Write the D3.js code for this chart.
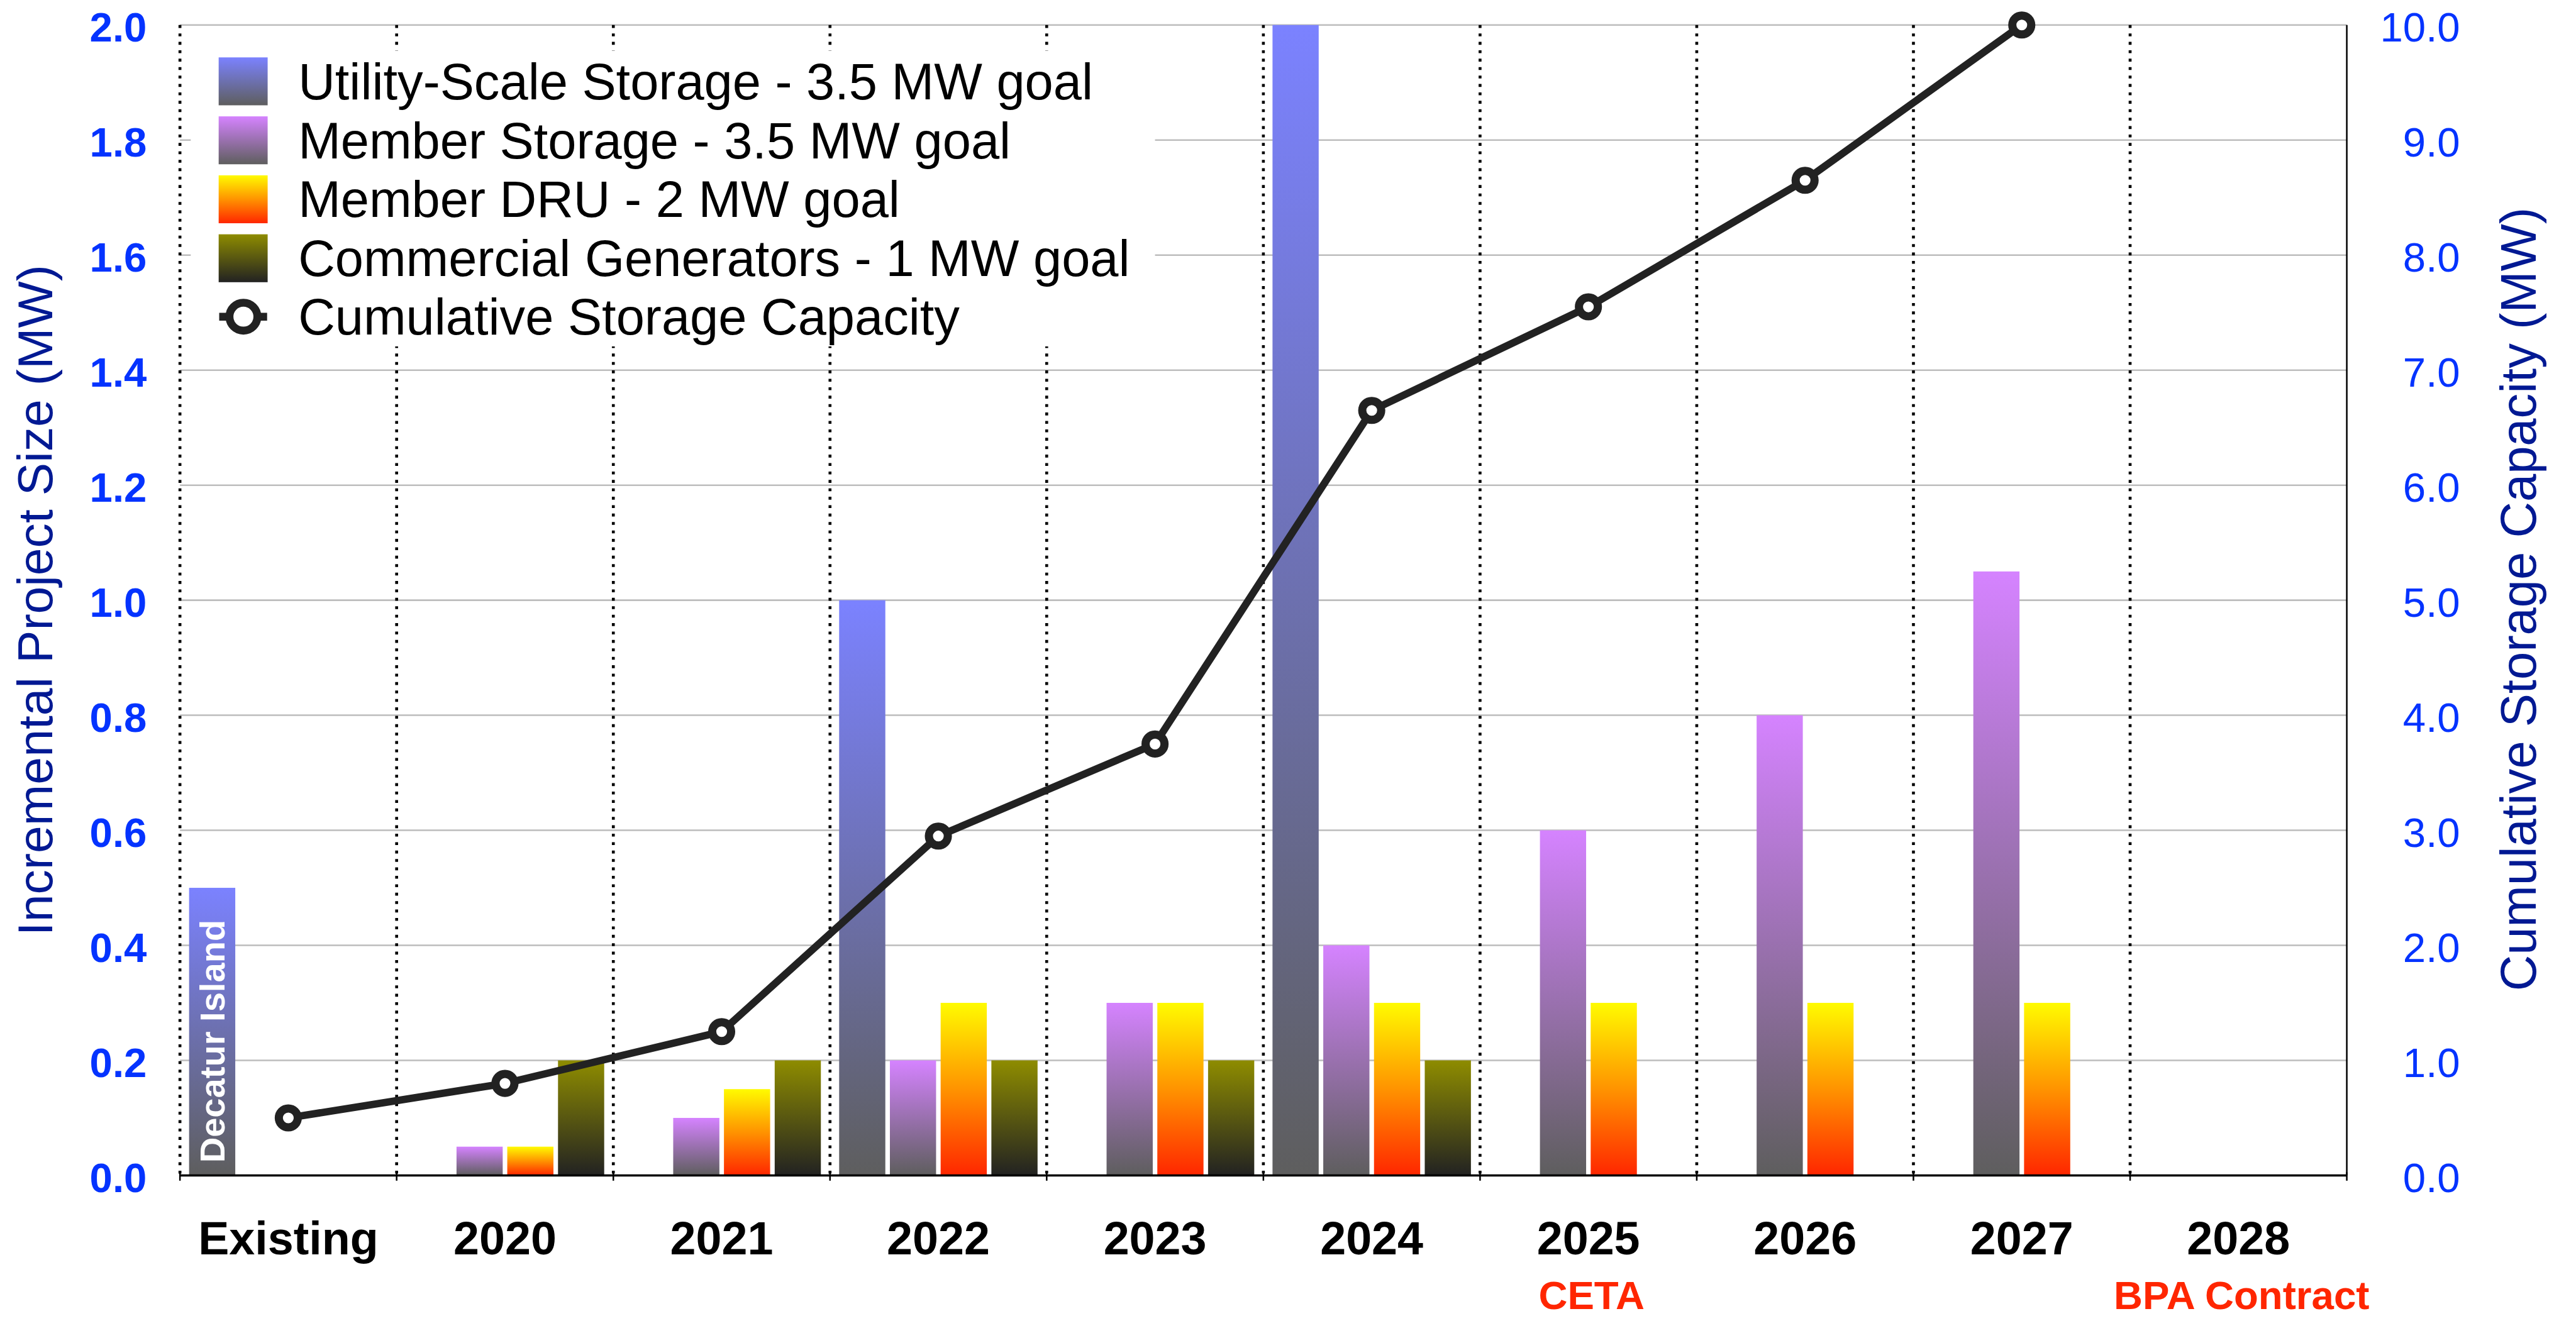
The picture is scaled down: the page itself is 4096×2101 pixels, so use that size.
<!DOCTYPE html>
<html>
<head>
<meta charset="utf-8">
<script src="https://cdn.jsdelivr.net/npm/d3@7"></script>
<style>
  html, body { margin: 0; padding: 0; background: #ffffff; }
  svg { display: block; }
  text { font-family: "Liberation Sans", Arial, Helvetica, sans-serif; }
</style>
</head>
<body>
<div id="chart"></div>
<script>
// Categories along the x axis
const categories = ["Existing", "2020", "2021", "2022", "2023", "2024", "2025", "2026", "2027", "2028"];

// Incremental project sizes (MW), one array per series
const utilityStorage    = [0.5, 0,    0,    1.0, 0,   2.0, 0,   0,   0,    0];
const memberStorage     = [0,   0.05, 0.1,  0.2, 0.3, 0.4, 0.6, 0.8, 1.05, 0];
const memberDRU         = [0,   0.05, 0.15, 0.3, 0.3, 0.3, 0.3, 0.3, 0.3,  0];
const commercialGen     = [0,   0.2,  0.2,  0.2, 0.2, 0.2, 0,   0,   0,    0];

// Cumulative storage capacity (MW, right axis); no point for 2028
const cumulativeCapacity = [0.5, 0.8, 1.25, 2.95, 3.75, 6.65, 7.55, 8.65, 10.0, null];

// Axis ticks
const leftTicks  = [0, 0.2, 0.4, 0.6, 0.8, 1.0, 1.2, 1.4, 1.6, 1.8, 2.0];
const rightTicks = [0, 1, 2, 3, 4, 5, 6, 7, 8, 9, 10];

// Series labels for the legend
const seriesKeys   = ["utility", "member", "dru", "commercial"];
const seriesLabels = [
  "Utility-Scale Storage - 3.5 MW goal",
  "Member Storage - 3.5 MW goal",
  "Member DRU - 2 MW goal",
  "Commercial Generators - 1 MW goal"
];
const lineLabel = "Cumulative Storage Capacity";

// Milestone notes under the category labels
const noteCategories = ["2025", "2028"];
const noteLabels     = ["CETA", "BPA Contract"];

// Titles
const leftTitle  = "Incremental Project Size (MW)";
const rightTitle = "Cumulative Storage Capacity (MW)";
const decaturLabel = "Decatur Island";

const seriesValues = {
  utility: utilityStorage,
  member: memberStorage,
  dru: memberDRU,
  commercial: commercialGen
};

// Gradient fills (top -> bottom) per series
const gradients = {
  utility:    [[0, "#7B82FF"], [1, "#5E5E5E"]],
  member:     [[0, "#D583FF"], [1, "#5E5E5E"]],
  dru:        [[0, "#FFFB00"], [0.5, "#FF9300"], [1, "#FF2600"]],
  commercial: [[0, "#8E8C00"], [1, "#222222"]]
};

// Layout in a 4891 x 2509 design space, scaled to the window by the viewBox
const W = 4891, H = 2509;
const plot = { left: 341.5, right: 4456, top: 47.5, bottom: 2232.5 };

const svg = d3.select("#chart").append("svg")
  .attr("width", 4096)
  .attr("height", 2101)
  .attr("viewBox", `0 0 ${W} ${H}`);

const defs = svg.append("defs");
seriesKeys.forEach(k => {
  const g = defs.append("linearGradient")
    .attr("id", "grad-" + k)
    .attr("x1", 0).attr("y1", 0).attr("x2", 0).attr("y2", 1);
  gradients[k].forEach(([o, c]) => g.append("stop").attr("offset", o).attr("stop-color", c));
});

const x0 = d3.scaleBand().domain(categories).range([plot.left, plot.right]).paddingInner(0).paddingOuter(0);
const x1 = d3.scaleBand().domain(seriesKeys).range([0, x0.bandwidth()]).paddingInner(0.09).paddingOuter(0.18);
const yL = d3.scaleLinear().domain([0, 2]).range([plot.bottom, plot.top]);
const yR = d3.scaleLinear().domain([0, 10]).range([plot.bottom, plot.top]);

// Horizontal gridlines
svg.append("g").selectAll("line")
  .data(leftTicks.filter(d => d > 0))
  .join("line")
  .attr("x1", plot.left).attr("x2", plot.right)
  .attr("y1", d => yL(d)).attr("y2", d => yL(d))
  .attr("stroke", "#BDBDBD").attr("stroke-width", 3);

// Dotted separators between categories
svg.append("g").selectAll("line")
  .data(categories)
  .join("line")
  .attr("x1", d => x0(d)).attr("x2", d => x0(d))
  .attr("y1", plot.top).attr("y2", plot.bottom)
  .attr("stroke", "#000").attr("stroke-width", 5.5)
  .attr("stroke-dasharray", "5.5,10.5");

// Legend background covers the grid behind it
svg.append("rect")
  .attr("x", 362).attr("y", 96).attr("width", 1831).attr("height", 562)
  .attr("fill", "#ffffff");

// Bars
const barData = [];
categories.forEach((c, i) => {
  seriesKeys.forEach(k => {
    const v = seriesValues[k][i];
    if (v > 0) barData.push({ cat: c, key: k, value: v });
  });
});
svg.append("g").selectAll("rect")
  .data(barData)
  .join("rect")
  .attr("x", d => x0(d.cat) + x1(d.key))
  .attr("width", x1.bandwidth())
  .attr("y", d => yL(d.value))
  .attr("height", d => yL(0) - yL(d.value))
  .attr("fill", d => `url(#grad-${d.key})`);

// Label inside the existing utility-scale bar
svg.append("text")
  .attr("transform", `translate(${x0("Existing") + x1("utility") + x1.bandwidth() / 2 + 23},${yL(0) - 24}) rotate(-90)`)
  .attr("fill", "#ffffff")
  .attr("font-weight", "bold")
  .attr("font-size", 67)
  .text(decaturLabel);

// Right border
svg.append("line")
  .attr("x1", plot.right).attr("x2", plot.right)
  .attr("y1", plot.top).attr("y2", plot.bottom)
  .attr("stroke", "#000").attr("stroke-width", 3);

// Bottom axis with ticks at category boundaries
const xAxisG = svg.append("g");
xAxisG.append("line")
  .attr("x1", plot.left).attr("x2", plot.right)
  .attr("y1", plot.bottom).attr("y2", plot.bottom)
  .attr("stroke", "#000").attr("stroke-width", 4);
const boundaries = categories.map(c => x0(c)).concat([plot.right]);
xAxisG.selectAll("line.tick")
  .data(boundaries)
  .join("line")
  .attr("class", "tick")
  .attr("x1", d => d).attr("x2", d => d)
  .attr("y1", plot.bottom - 6).attr("y2", plot.bottom + 10)
  .attr("stroke", "#000").attr("stroke-width", 3);

xAxisG.selectAll("text.cat")
  .data(categories)
  .join("text")
  .attr("class", "cat")
  .attr("x", d => x0(d) + x0.bandwidth() / 2)
  .attr("y", 2383)
  .attr("text-anchor", "middle")
  .attr("font-size", 88)
  .attr("font-weight", "bold")
  .attr("fill", "#000")
  .text(d => d);

xAxisG.selectAll("text.note")
  .data(noteCategories.map((c, i) => ({ cat: c, label: noteLabels[i] })))
  .join("text")
  .attr("class", "note")
  .attr("x", d => x0(d.cat) + x0.bandwidth() / 2 + 6)
  .attr("y", 2486)
  .attr("text-anchor", "middle")
  .attr("font-size", 76)
  .attr("font-weight", "bold")
  .attr("fill", "#FF2600")
  .text(d => d.label);

// Left axis
const leftAxis = d3.axisLeft(yL).tickValues(leftTicks).tickFormat(d3.format(".1f")).tickSize(0).tickPadding(63);
svg.append("g")
  .attr("transform", `translate(${plot.left},0)`)
  .call(leftAxis)
  .call(g => g.select(".domain").remove())
  .call(g => g.selectAll("text")
    .attr("font-size", 78)
    .attr("font-weight", "bold")
    .attr("fill", "#0433FF")
    .attr("dy", "0.40em")
    .style("font-family", "'Liberation Sans', Arial, Helvetica, sans-serif"));

// Right axis
const rightAxis = d3.axisRight(yR).tickValues(rightTicks).tickFormat(d3.format(".1f")).tickSize(0);
svg.append("g")
  .attr("transform", `translate(${plot.right},0)`)
  .call(rightAxis)
  .call(g => g.select(".domain").remove())
  .call(g => g.selectAll("text")
    .attr("x", 215)
    .attr("text-anchor", "end")
    .attr("font-size", 78)
    .attr("fill", "#0433FF")
    .attr("dy", "0.40em")
    .style("font-family", "'Liberation Sans', Arial, Helvetica, sans-serif"));

// Axis titles
svg.append("text")
  .attr("transform", `translate(99,${(plot.top + plot.bottom) / 2}) rotate(-90)`)
  .attr("text-anchor", "middle")
  .attr("font-size", 94)
  .attr("fill", "#011993")
  .text(leftTitle);
svg.append("text")
  .attr("transform", `translate(4815,${(plot.top + plot.bottom) / 2 - 2}) rotate(-90)`)
  .attr("text-anchor", "middle")
  .attr("font-size", 95)
  .attr("fill", "#011993")
  .text(rightTitle);

// Cumulative capacity line with hollow markers
const linePts = categories.map((c, i) => ({ cat: c, value: cumulativeCapacity[i] }));
const line = d3.line()
  .defined(d => d.value != null)
  .x(d => x0(d.cat) + x0.bandwidth() / 2)
  .y(d => yR(d.value));
svg.append("path")
  .datum(linePts)
  .attr("d", line)
  .attr("fill", "none")
  .attr("stroke", "#222222")
  .attr("stroke-width", 14)
  .attr("stroke-linejoin", "round");
svg.append("g").selectAll("circle")
  .data(linePts.filter(d => d.value != null))
  .join("circle")
  .attr("cx", d => x0(d.cat) + x0.bandwidth() / 2)
  .attr("cy", d => yR(d.value))
  .attr("r", 18)
  .attr("fill", "#ffffff")
  .attr("stroke", "#222222")
  .attr("stroke-width", 15.5);

// Legend
const legend = svg.append("g");
const legendRowY = i => 154.5 + i * 112;
seriesKeys.forEach((k, i) => {
  legend.append("rect")
    .attr("x", 415).attr("y", legendRowY(i) - 45.5)
    .attr("width", 93).attr("height", 91)
    .attr("fill", `url(#grad-${k})`);
  legend.append("text")
    .attr("x", 566).attr("y", legendRowY(i) + 34)
    .attr("font-size", 97)
    .attr("fill", "#000")
    .text(seriesLabels[i]);
});
const ly = legendRowY(4) - 1;
legend.append("line")
  .attr("x1", 416).attr("x2", 507)
  .attr("y1", ly).attr("y2", ly)
  .attr("stroke", "#222222").attr("stroke-width", 15);
legend.append("circle")
  .attr("cx", 462).attr("cy", ly)
  .attr("r", 26.5)
  .attr("fill", "#ffffff")
  .attr("stroke", "#222222")
  .attr("stroke-width", 15);
legend.append("text")
  .attr("x", 566).attr("y", ly + 34)
  .attr("font-size", 97)
  .attr("fill", "#000")
  .text(lineLabel);
</script>
</body>
</html>
